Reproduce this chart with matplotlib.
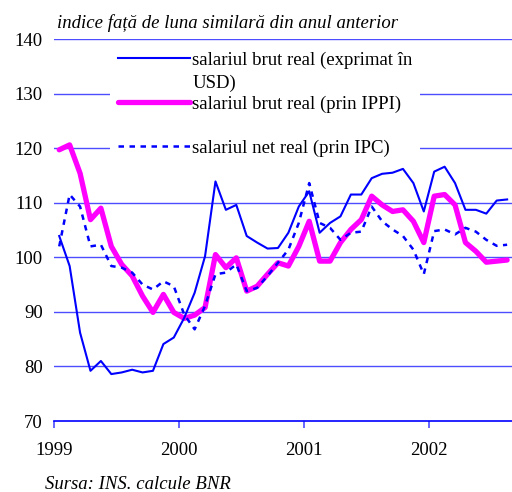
import numpy as np
import matplotlib
matplotlib.use('Agg')
import matplotlib.pyplot as plt

# monthly index, Jan 1999 - Aug 2002
months = np.arange(44)
usd = [103.9, 98.4, 86.2, 79.2, 81.0, 78.6, 78.9, 79.4, 78.9, 79.2, 84.1, 85.3,
       88.9, 93.5, 100.2, 113.9, 108.7, 109.6, 103.9, 102.7, 101.6, 101.7, 104.5, 109.3,
       112.1, 104.5, 106.3, 107.5, 111.5, 111.5, 114.5, 115.3, 115.5, 116.2, 113.6, 108.4,
       115.7, 116.6, 113.6, 108.7, 108.7, 108.0, 110.4, 110.6]
ippi = [119.7, 120.6, 115.4, 106.9, 109.0, 102.0, 98.7, 96.6, 92.9, 89.9, 93.2, 89.9,
        88.8, 89.4, 90.8, 100.5, 98.1, 99.9, 93.8, 94.7, 96.9, 99.0, 98.4, 102.0,
        106.6, 99.3, 99.3, 102.7, 105.1, 106.9, 111.2, 109.6, 108.4, 108.7, 106.6, 102.7,
        111.2, 111.5, 109.6, 102.7, 101.1, 99.1, 99.3, 99.5]
ipc = [102.0, 111.5, 109.3, 102.0, 102.3, 98.4, 98.1, 97.2, 95.0, 94.1, 95.6, 94.7,
       89.5, 86.8, 91.1, 96.9, 97.2, 98.7, 93.8, 94.4, 96.6, 99.0, 101.4, 106.3,
       113.6, 106.3, 105.4, 103.2, 104.5, 104.7, 109.3, 106.6, 105.1, 103.9, 101.4, 96.9,
       104.8, 105.1, 104.2, 105.4, 104.7, 103.2, 102.1, 102.3]
labels = ['salariul brut real (exprimat în', 'salariul brut real (prin IPPI)',
          'salariul net real (prin IPC)']
label_wrap = 'USD)'
years = [1999, 2000, 2001, 2002]

serif = ['Liberation Serif', 'DejaVu Serif']
plt.rcParams['font.family'] = serif
fs = 13.5

x = 1999 + (months + 0.5) / 12

fig = plt.figure(figsize=(5.12, 4.92), dpi=100)
ax = fig.add_axes([0.1055, 0.1443, 0.8945, 0.7764])

grid_c = '#4d4dff'
for v in range(80, 141, 10):
    ax.axhline(v, color=grid_c, lw=1.0, zorder=1)

l1, = ax.plot(x, usd, color='#0000ff', lw=1.5, zorder=3)
l2, = ax.plot(x, ippi, color='#ff00ff', lw=3.8, zorder=2, solid_capstyle='round')
l3, = ax.plot(x, ipc, color='#0000ff', lw=1.8, ls=(0, (2.2, 2.2)), zorder=4)

ax.set_xlim(1999, 2002 + 458 / 125 - 3)
ax.set_ylim(70, 140)
ax.set_yticks(range(70, 141, 10))
ax.set_xticks(years)
for s in ['top', 'right', 'left']:
    ax.spines[s].set_visible(False)
ax.spines['bottom'].set_color('#0000ff')
ax.spines['bottom'].set_linewidth(1.2)
ax.tick_params(axis='y', length=0, labelsize=fs, pad=8)
ax.tick_params(axis='x', direction='out', length=5, color='#4d4dff', width=1.2,
               labelsize=fs, pad=10)

leg = ax.legend([l1, l2, l3], labels, loc='upper left',
                bbox_to_anchor=(110 / 512, 1 - 44 / 492), bbox_transform=fig.transFigure,
                borderaxespad=0, fontsize=fs, frameon=True, facecolor='white',
                edgecolor='none', framealpha=1, fancybox=False, handlelength=3.85,
                handletextpad=0.15, labelspacing=1.42, borderpad=0.4)
leg.set_zorder(5)
ax.text(193 / 512, 1 - 83 / 492, label_wrap, transform=fig.transFigure, fontsize=fs,
        va='center', ha='left', zorder=6)

fig.text(0.111, 0.953, 'indice față de luna similară din anul anterior', style='italic',
         fontsize=fs, va='center', ha='left')
fig.text(0.088, 0.016, 'Sursa: INS. calcule BNR', style='italic', fontsize=fs,
         va='center', ha='left')

fig.savefig('out.png', dpi=100)
